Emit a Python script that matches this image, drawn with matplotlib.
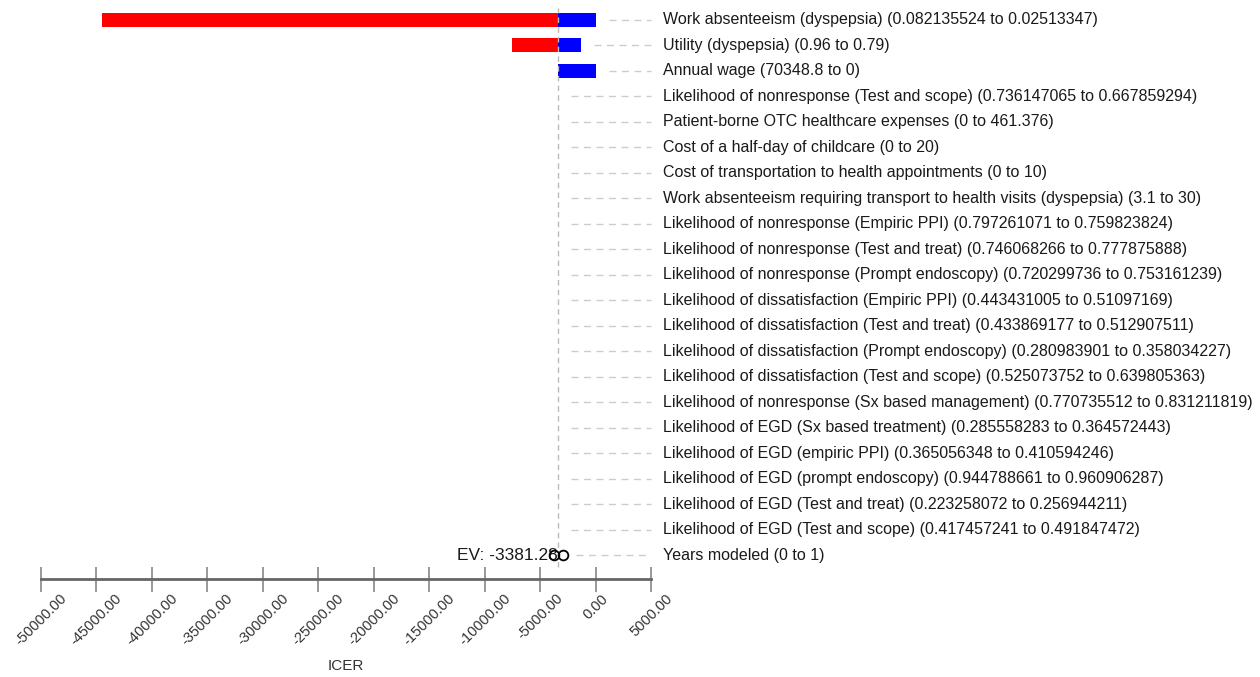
import matplotlib
matplotlib.use('Agg')
import matplotlib.pyplot as plt

plt.rcParams['font.family'] = ['Liberation Sans', 'DejaVu Sans']

# Tornado diagram data (ICER); bars run from EV to low / high results
labels = [
    'Work absenteeism (dyspepsia) (0.082135524 to 0.02513347)',
    'Utility (dyspepsia) (0.96 to 0.79)',
    'Annual wage (70348.8 to 0)',
    'Likelihood of nonresponse (Test and scope) (0.736147065 to 0.667859294)',
    'Patient-borne OTC healthcare expenses (0 to 461.376)',
    'Cost of a half-day of childcare (0 to 20)',
    'Cost of transportation to health appointments (0 to 10)',
    'Work absenteeism requiring transport to health visits (dyspepsia) (3.1 to 30)',
    'Likelihood of nonresponse (Empiric PPI) (0.797261071 to 0.759823824)',
    'Likelihood of nonresponse (Test and treat) (0.746068266 to 0.777875888)',
    'Likelihood of nonresponse (Prompt endoscopy) (0.720299736 to 0.753161239)',
    'Likelihood of dissatisfaction (Empiric PPI) (0.443431005 to 0.51097169)',
    'Likelihood of dissatisfaction (Test and treat) (0.433869177 to 0.512907511)',
    'Likelihood of dissatisfaction (Prompt endoscopy) (0.280983901 to 0.358034227)',
    'Likelihood of dissatisfaction (Test and scope) (0.525073752 to 0.639805363)',
    'Likelihood of nonresponse (Sx based management) (0.770735512 to 0.831211819)',
    'Likelihood of EGD (Sx based treatment) (0.285558283 to 0.364572443)',
    'Likelihood of EGD (empiric PPI) (0.365056348 to 0.410594246)',
    'Likelihood of EGD (prompt endoscopy) (0.944788661 to 0.960906287)',
    'Likelihood of EGD (Test and treat) (0.223258072 to 0.256944211)',
    'Likelihood of EGD (Test and scope) (0.417457241 to 0.491847472)',
    'Years modeled (0 to 1)',
]
EV = -3381.28
low_vals = [-44500, -7550, EV] + [EV] * 19
high_vals = [50, -1300, 50] + [EV] * 19
marker_vals = [-3750, -2950]   # open circles on the last row

fig = plt.figure(figsize=(12.6, 6.77), dpi=100)
ax = fig.add_axes([41 / 1260, 98 / 677, 610 / 1260, 571 / 677])

n = len(labels)
ys = [-i for i in range(n)]

for y, lo, hi in zip(ys, low_vals, high_vals):
    ax.barh(y, lo - EV, left=EV, height=0.55, color='#ff0000', edgecolor='none')
    ax.barh(y, hi - EV, left=EV, height=0.55, color='#0000ff', edgecolor='none')

ax.plot(marker_vals, [ys[-1]] * len(marker_vals), 'o', mfc='none', mec='black',
        ms=7, mew=1.3, zorder=4)

ax.vlines(EV, ys[-1] - 0.45, 0.47, colors='#bbbbbb', linestyles=(0, (4, 3)), lw=1)

for i, (y, lo, hi) in enumerate(zip(ys, low_vals, high_vals)):
    ends = [EV, lo, hi]
    if i == n - 1:
        ends += marker_vals
    ax.plot([max(ends) + 1200, 5000], [y, y], color='#cccccc', lw=1,
            linestyle=(0, (5, 4)), clip_on=False)
    ax.text(1.02, y, labels[i], transform=ax.get_yaxis_transform(),
            fontsize=11.5, va='center', ha='left', color='#1a1a1a')

ax.text(EV, ys[-1], 'EV: ' + '%.2f' % EV, fontsize=12.5, va='center',
        ha='right', color='#1a1a1a')

ax.set_xlim(-50000, 5000)
ax.set_ylim(ys[-1] - 0.94, 0.47)
ticks = list(range(-50000, 5001, 5000))
ax.set_xticks(ticks)
ax.set_xticklabels(['%.2f' % t for t in ticks], rotation=45, ha='center',
                   va='top', fontsize=10.5, color='#333333')
ax.tick_params(axis='x', direction='inout', length=18, width=1.2, color='#888888', pad=0)
ax.set_yticks([])
for s in ['top', 'right', 'left']:
    ax.spines[s].set_visible(False)
ax.spines['bottom'].set_color('#666666')
ax.spines['bottom'].set_linewidth(2)
ax.set_xlabel('ICER', fontsize=11, color='#333333', va='center')
ax.xaxis.set_label_coords(0.5, -0.152)

fig.savefig('out.png', dpi=100)
